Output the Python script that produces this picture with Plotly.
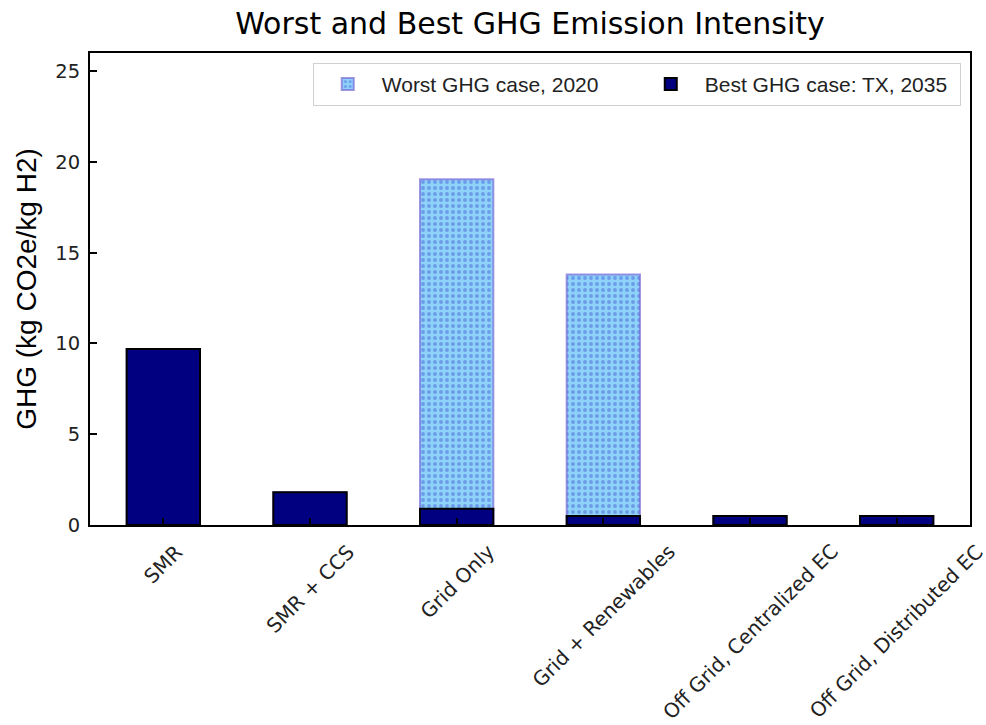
import plotly.graph_objects as go

categories = ["SMR", "SMR + CCS", "Grid Only", "Grid + Renewables",
              "Off Grid, Centralized EC", "Off Grid, Distributed EC"]
worst_2020 = [9.7, 1.8, 19.05, 13.8, 0.5, 0.5]
best_tx_2035 = [9.7, 1.8, 0.9, 0.5, 0.5, 0.5]
y_ticks = [0, 5, 10, 15, 20, 25]

x_pos = list(range(len(categories)))

fig = go.Figure()
fig.add_trace(go.Bar(
    x=x_pos, y=worst_2020, name="Worst GHG case, 2020", width=0.5,
    marker=dict(
        color="#87CEFA",
        line=dict(color="rgba(120,105,215,0.7)", width=2),
        pattern=dict(shape=".", fgcolor="#6C9BE8", bgcolor="#8ED2FA",
                     size=6, solidity=0.32, fillmode="replace"),
    ),
))
fig.add_trace(go.Bar(
    x=x_pos, y=best_tx_2035, name="Best GHG case: TX, 2035", width=0.5,
    marker=dict(color="#000080", line=dict(color="black", width=2)),
))

# Category labels, rotated 45 degrees and centred under each tick
for xi, label in zip(x_pos, categories):
    fig.add_annotation(
        x=xi, xref="x", y=0, yref="paper",
        text=label, showarrow=False, textangle=-45,
        xanchor="center", yanchor="top", yshift=-12,
        font=dict(family="DejaVu Sans", size=20, color="#222222"),
    )

fig.update_layout(
    width=986, height=725,
    margin=dict(l=90, r=16, t=53, b=200, autoexpand=False),
    barmode="overlay",
    plot_bgcolor="white", paper_bgcolor="white",
    title=dict(text="Worst and Best GHG Emission Intensity",
               x=0.5, xref="paper", xanchor="center", y=0.968, yanchor="middle",
               font=dict(family="DejaVu Sans", size=30, color="black")),
    legend=dict(orientation="h", x=0.9895, xanchor="right", y=0.979, yanchor="top",
                bordercolor="#d0d0d0", borderwidth=1, bgcolor="white",
                font=dict(family="Liberation Sans", size=21, color="#222222"),
                itemwidth=58, entrywidth=250, entrywidthmode="pixels",
                traceorder="normal"),
    font=dict(family="DejaVu Sans", color="black"),
)
fig.update_xaxes(
    range=[-0.5, 5.5], tickmode="array", tickvals=x_pos, showticklabels=False,
    ticks="inside", ticklen=7, tickwidth=1.5, tickcolor="black",
    showline=True, linecolor="black", linewidth=2, mirror=True,
    showgrid=False, zeroline=False, automargin=False,
)
fig.update_yaxes(
    range=[0, 26], tickmode="array", tickvals=y_ticks,
    ticks="inside", ticklen=7, tickwidth=1.5, tickcolor="black",
    tickfont=dict(family="DejaVu Sans", size=19.5, color="#222222"),
    ticklabelstandoff=4,
    showline=True, linecolor="black", linewidth=2, mirror=True,
    showgrid=False, zeroline=False, automargin=False,
    title=dict(text="GHG (kg CO2e/kg H2)", standoff=10,
               font=dict(family="Liberation Sans", size=28, color="black")),
)

fig.write_html("out.html")
